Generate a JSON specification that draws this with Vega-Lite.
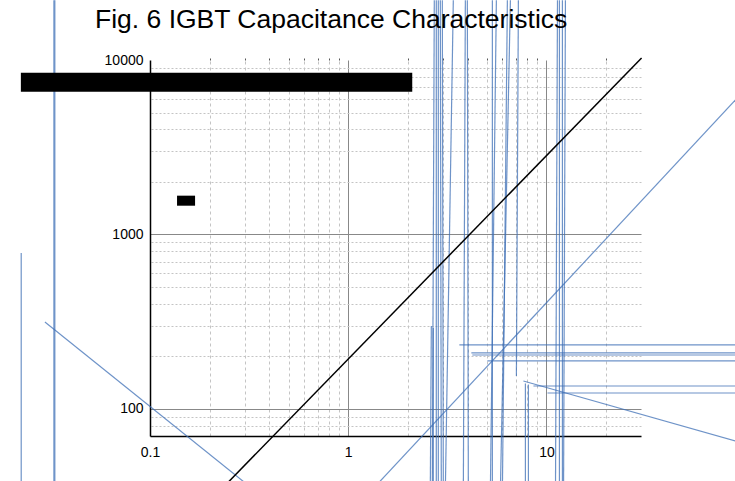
{
  "$schema": "https://vega.github.io/schema/vega-lite/v6.json",
  "width": 491,
  "height": 376,
  "autosize": {"type": "none"},
  "padding": {"left": 150, "top": 60, "right": 94, "bottom": 45},
  "title": {
    "text": "Fig. 6 IGBT Capacitance Characteristics",
    "font": "Liberation Sans",
    "fontSize": 26.5,
    "fontWeight": "normal",
    "color": "#000000",
    "anchor": "start",
    "frame": "group",
    "baseline": "alphabetic",
    "offset": -54.5,
    "dx": -55
  },
  "config": {
    "view": {"stroke": null},
    "axis": {"labelFont": "Liberation Sans", "labelFontSize": 14, "labelColor": "#000000", "title": null}
  },
  "datasets": {
    "segments": [
      {"x1": 2.718, "y1": 22000, "x2": 2.656, "y2": 34},
      {"x1": 2.782, "y1": 22000, "x2": 2.782, "y2": 34},
      {"x1": 2.848, "y1": 22000, "x2": 2.848, "y2": 34},
      {"x1": 2.915, "y1": 22000, "x2": 2.949, "y2": 34},
      {"x1": 2.984, "y1": 22000, "x2": 3.019, "y2": 34},
      {"x1": 3.39, "y1": 22000, "x2": 3.09, "y2": 34},
      {"x1": 3.899, "y1": 22000, "x2": 3.809, "y2": 34},
      {"x1": 3.991, "y1": 22000, "x2": 4.037, "y2": 34},
      {"x1": 5.591, "y1": 22000, "x2": 5.214, "y2": 34},
      {"x1": 5.337, "y1": 22000, "x2": 5.337, "y2": 34},
      {"x1": 6.579, "y1": 22000, "x2": 5.856, "y2": 34},
      {"x1": 6.353, "y1": 22000, "x2": 5.995, "y2": 34},
      {"x1": 11.37, "y1": 22000, "x2": 11.11, "y2": 34},
      {"x1": 11.63, "y1": 22000, "x2": 11.63, "y2": 34},
      {"x1": 12.04, "y1": 22000, "x2": 12.04, "y2": 34},
      {"x1": 12.47, "y1": 22000, "x2": 12.2, "y2": 34},
      {"x1": 7.22, "y1": 22000, "x2": 7.055, "y2": 154.6},
      {"x1": 2.626, "y1": 298.9, "x2": 2.595, "y2": 34},
      {"x1": 2.687, "y1": 291.2, "x2": 2.687, "y2": 34},
      {"x1": 7.833, "y1": 140, "x2": 7.833, "y2": 34},
      {"x1": 8.112, "y1": 138, "x2": 8.112, "y2": 34},
      {"x1": 3.636, "y1": 232.7, "x2": 120, "y2": 232.7},
      {"x1": 4.181, "y1": 209.4, "x2": 120, "y2": 209.4},
      {"x1": 4.229, "y1": 203.9, "x2": 120, "y2": 203.9},
      {"x1": 5.035, "y1": 188.4, "x2": 120, "y2": 188.4},
      {"x1": 8.599, "y1": 135.4, "x2": 120, "y2": 135.4},
      {"x1": 10.12, "y1": 123.5, "x2": 120, "y2": 123.5},
      {"x1": 7.654, "y1": 144.7, "x2": 120, "y2": 59.8},
      {"x1": 1.316, "y1": 34.3, "x2": 120.4, "y2": 8424},
      {"x1": 0.0295, "y1": 315, "x2": 0.335, "y2": 34.3},
      {"x1": 0.03275, "y1": 22000, "x2": 0.03275, "y2": 34},
      {"x1": 0.0331, "y1": 22000, "x2": 0.0331, "y2": 34},
      {"x1": 0.0224, "y1": 783, "x2": 0.0224, "y2": 34}
    ],
    "fit": [
      {"v": 0.227, "c": 34.3},
      {"v": 30.2, "c": 10268}
    ],
    "boxes": [
      {"x1": 0.02231, "x2": 2.104, "y1": 8457, "y2": 6580},
      {"x1": 0.1369, "x2": 0.1688, "y1": 1669, "y2": 1462}
    ]
  },
  "layer": [
    {
      "data": {"name": "segments"},
      "mark": {"type": "rule", "color": "#3d6fb6", "strokeWidth": 1.2, "opacity": 0.75},
      "encoding": {
        "x": {
          "field": "x1", "type": "quantitative",
          "scale": {"type": "log", "domain": [0.1, 30], "nice": false},
          "axis": {
            "orient": "top",
            "values": [0.2, 0.3, 0.4, 0.5, 0.6, 0.7, 0.8, 0.9, 2, 3, 4, 5, 6, 7, 8, 9, 20],
            "grid": true, "gridColor": "#c4c4c4", "gridDash": [3, 3], "gridWidth": 1,
            "labels": false, "domain": false, "ticks": true, "tickSize": 2, "tickColor": "#555555"
          }
        },
        "y": {
          "field": "y1", "type": "quantitative",
          "scale": {"type": "log", "domain": [70, 10000], "nice": false},
          "axis": {
            "orient": "right",
            "values": [80, 90, 200, 300, 400, 500, 600, 700, 800, 900, 2000, 3000, 4000, 5000, 6000, 7000, 8000, 9000],
            "grid": true, "gridColor": "#c4c4c4", "gridDash": [2, 2], "gridWidth": 1,
            "labels": false, "domain": false, "ticks": false
          }
        },
        "x2": {"field": "x2"},
        "y2": {"field": "y2"}
      }
    },
    {
      "data": {"name": "fit"},
      "mark": {"type": "line", "color": "#000000", "strokeWidth": 1.5},
      "encoding": {
        "x": {
          "field": "v", "type": "quantitative",
          "scale": {"type": "log", "domain": [0.1, 30], "nice": false},
          "axis": {
            "orient": "bottom",
            "values": [0.1, 1, 10],
            "format": "~g",
            "grid": true,
            "gridColor": {"condition": {"test": "datum.value < 0.5", "value": "transparent"}, "value": "#888888"},
            "gridWidth": 1,
            "domain": true, "domainColor": "#000000", "domainWidth": 1.5,
            "ticks": false, "labelPadding": 9, "labelFlush": false
          }
        },
        "y": {
          "field": "c", "type": "quantitative",
          "scale": {"type": "log", "domain": [70, 10000], "nice": false},
          "axis": {
            "orient": "left",
            "values": [100, 1000, 10000],
            "format": "~g",
            "grid": true,
            "gridColor": {"condition": {"test": "datum.value > 5000", "value": "transparent"}, "value": "#888888"},
            "gridWidth": 1,
            "domain": true, "domainColor": "#000000", "domainWidth": 1.5,
            "ticks": false, "labelPadding": 7, "labelFlush": false
          }
        }
      }
    },
    {
      "data": {"name": "boxes"},
      "mark": {"type": "rect", "color": "#000000"},
      "encoding": {
        "x": {"field": "x1", "type": "quantitative", "scale": {"type": "log", "domain": [0.1, 30], "nice": false}, "axis": null},
        "x2": {"field": "x2"},
        "y": {"field": "y1", "type": "quantitative", "scale": {"type": "log", "domain": [70, 10000], "nice": false}, "axis": null},
        "y2": {"field": "y2"}
      }
    }
  ],
  "resolve": {"axis": {"x": "independent", "y": "independent"}}
}
